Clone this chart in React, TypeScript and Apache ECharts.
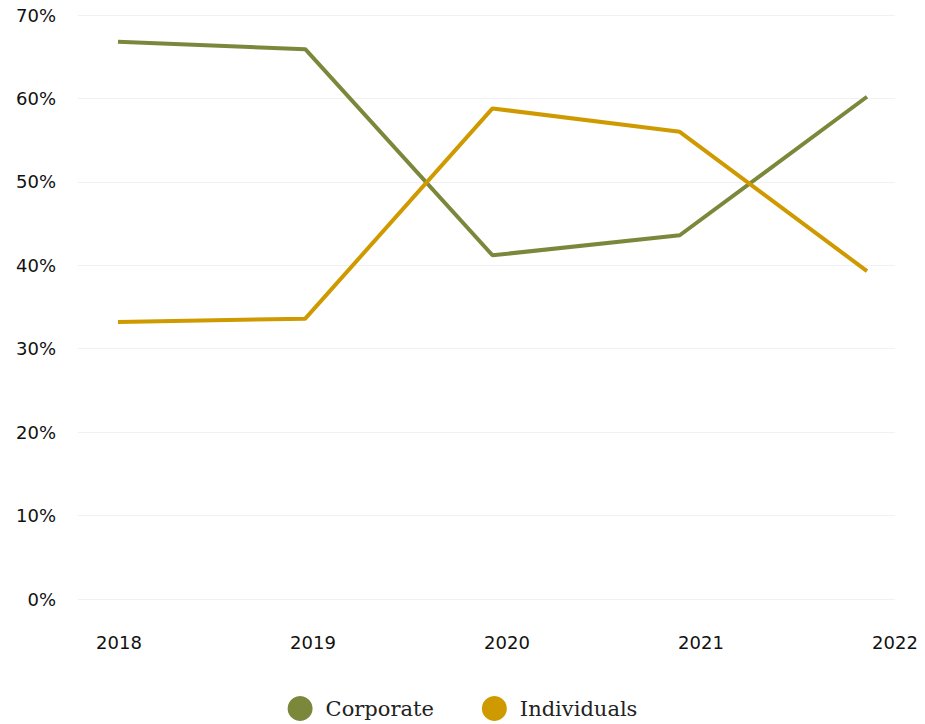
import React, { useEffect, useRef } from "react";
import * as echarts from "echarts";

const years = ["2018", "2019", "2020", "2021", "2022"];
const corporate = [66.8, 65.9, 41.2, 43.6, 60.2];
const individuals = [33.2, 33.6, 58.8, 56.0, 39.3];
const yTicks = [0, 10, 20, 30, 40, 50, 60, 70];

const GREEN = "#7b883b";
const GOLD = "#cf9a00";

export default function App() {
  const ref = useRef<HTMLDivElement>(null);
  useEffect(() => {
    if (!ref.current) return;
    const chart = echarts.init(ref.current, null, { renderer: "svg" });
    const top = 15;
    const bottom = 125;
    chart.setOption({
      animation: false,
      legend: {
        data: ["Corporate", "Individuals"],
        left: "center",
        top: 691,
        icon: "circle",
        itemWidth: 25,
        itemHeight: 25,
        itemGap: 48,
        textStyle: {
          fontFamily: "DejaVu Serif",
          fontSize: 21,
          color: "#222",
          padding: [0, 0, 0, 8],
        },
      },
      grid: [
        { left: 78, right: 30, top, bottom },
        { left: 119, right: 30, top, bottom },
        { left: 118, right: 58, top, bottom },
      ],
      xAxis: [
        { gridIndex: 0, type: "category", data: years, show: false },
        {
          gridIndex: 1,
          type: "category",
          data: years,
          boundaryGap: false,
          axisLine: { show: false },
          axisTick: { show: false },
          splitLine: { show: false },
          axisLabel: {
            margin: 34,
            color: "#111",
            fontFamily: "DejaVu Sans",
            fontSize: 18,
          },
        },
        { gridIndex: 2, type: "category", data: years, boundaryGap: false, show: false },
      ],
      yAxis: [
        {
          gridIndex: 0,
          type: "value",
          min: yTicks[0],
          max: yTicks[yTicks.length - 1],
          interval: 10,
          axisLine: { show: false },
          axisTick: { show: false },
          splitLine: { lineStyle: { color: "#f1f1f1", width: 1 } },
          axisLabel: {
            margin: 22,
            color: "#111",
            fontFamily: "DejaVu Sans",
            fontSize: 18,
            formatter: (v: number) => v + "%",
          },
        },
        { gridIndex: 1, type: "value", min: 0, max: 70, show: false },
        { gridIndex: 2, type: "value", min: 0, max: 70, show: false },
      ],
      series: [
        {
          name: "Corporate",
          type: "line",
          xAxisIndex: 2,
          yAxisIndex: 2,
          data: corporate,
          showSymbol: false,
          symbol: "circle",
          itemStyle: { color: GREEN },
          lineStyle: { color: GREEN, width: 4 },
        },
        {
          name: "Individuals",
          type: "line",
          xAxisIndex: 2,
          yAxisIndex: 2,
          data: individuals,
          showSymbol: false,
          symbol: "circle",
          itemStyle: { color: GOLD },
          lineStyle: { color: GOLD, width: 4 },
        },
      ],
    });
    return () => chart.dispose();
  }, []);
  return <div ref={ref} style={{ width: 925, height: 724, position: "absolute", left: 0, top: 0 }} />;
}
